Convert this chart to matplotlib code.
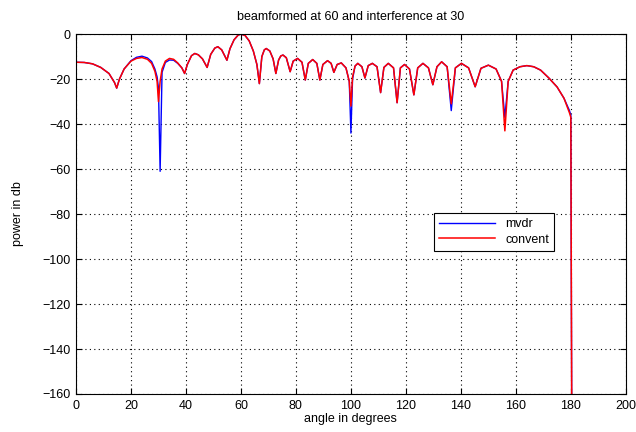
import matplotlib
matplotlib.use("Agg")
import matplotlib.pyplot as plt

plt.rcParams['font.family'] = ['Liberation Sans', 'DejaVu Sans']

title = "beamformed at 60 and interference at 30"
xlabel = "angle in degrees"
ylabel = "power in db"
series_names = ["mvdr", "convent"]

angle = [0, 3, 6, 9, 12, 14, 14.8, 15.8, 17.5, 20, 22, 24, 26, 27.5, 28.7, 29.5, 30, 30.6, 31.3,
         32.5, 34, 35.5, 37, 38.5, 39.5, 40.5, 42, 43.2, 44.5, 46, 47.7, 49, 50.5, 51.6, 53, 54.9,
         56, 57.5, 59, 60, 61.5, 63, 64.5, 65.8, 66.7, 67.6, 68.5, 69.2, 70.5, 71.7, 72.7, 73.7,
         74.5, 75.3, 76.5, 77.9, 79, 80.6, 82.2, 83.4, 84.5, 86.1, 87.6, 88.7, 89.8, 91.5, 92.8,
         93.8, 95, 96.5, 98.2, 99.4, 100, 100.6, 101.5, 102.5, 104, 105.1, 106.3, 107.8, 109.5,
         110.8, 112, 113.6, 115.5, 116.8, 118, 119.5, 121.3, 122.9, 124.3, 126.2, 128.2, 129.8,
         131.3, 133, 135, 136.5, 138, 140.2, 142.8, 145.2, 147.3, 150, 152.8, 154.8, 156, 157.2,
         159, 161.5, 164, 166.5, 169, 172, 175, 177.5, 179.5, 180, 180.3]

convent_db = [-12.5, -12.6, -13.2, -14.8, -17.5, -21.5, -24, -20, -15.5, -12, -10.8, -10.4, -11.2,
              -13, -16.5, -21, -30, -21, -15.5,
              -12, -10.8, -11.2, -12.8, -15, -17.5, -13.5, -9.6, -8.6, -9.2, -11, -14.8, -9, -6.2,
              -5.6, -7, -11.6,
              -6.5, -2.5, -0.4, 0, -0.6, -3, -7.5, -13.5, -22, -10, -7, -6.4, -7.5, -11, -17.5, -11.5,
              -9.7, -9.3, -10.5, -16.7, -12, -10.8, -12.5, -20.4, -13, -11.3, -13, -20.4, -13.5, -11.8,
              -13,
              -17, -13.5, -12.8, -15, -21, -32, -19, -14.2, -13, -14.5, -19.5, -14, -13, -14.5,
              -26, -14.8, -13, -15, -30.5, -15, -13.5, -15.5, -27, -15, -13, -15, -22.5,
              -14.5, -12.3, -14.5, -31, -15, -13, -15, -23.4, -15.2, -13.8, -15.5, -21, -43, -21,
              -16, -14.5, -14, -14.5, -16, -19.5, -23.5, -28.5, -35, -37, -160]

mvdr_db = [-12.5, -12.6, -13.2, -14.8, -17.5, -21.5, -24, -20, -15.5, -11.8, -10.3, -9.8, -10.6,
           -12.2, -15.5, -19, -24, -61, -17,
           -12.6, -11.5, -11.6, -13, -15, -17.5, -13.5, -9.6, -8.6, -9.2, -11, -14.8, -9, -6.2,
           -5.6, -7, -11.6,
           -6.5, -2.5, -0.4, 0, -0.6, -3, -7.5, -13.5, -22, -10, -7, -6.4, -7.5, -11, -17.5, -11.5,
           -9.7, -9.3, -10.5, -16.7, -12, -10.8, -12.5, -20.4, -13, -11.3, -13, -20.4, -13.5, -11.8,
           -13,
           -17, -13.5, -12.8, -15, -21, -44, -20, -14.2, -13, -14.5, -19.5, -14, -13, -14.5,
           -26, -14.8, -13, -15, -30.5, -15, -13.5, -15.5, -27, -15, -13, -15, -22.5,
           -14.5, -12.3, -14.5, -34, -15, -13, -15, -23.4, -15.2, -13.8, -15.5, -21, -37, -21,
           -16, -14.5, -14, -14.5, -16, -19.5, -23.5, -28.5, -34, -36, -160]

xticks = [0, 20, 40, 60, 80, 100, 120, 140, 160, 180, 200]
yticks = [0, -20, -40, -60, -80, -100, -120, -140, -160]

fig = plt.figure(figsize=(6.36, 4.32), dpi=100)
ax = fig.add_axes([0.1195, 0.088, 0.8645, 0.833])

ax.plot(angle, mvdr_db, color='#0000ff', lw=1.0, label=series_names[0])
ax.plot(angle, convent_db, color='#ff0000', lw=1.1, label=series_names[1])

ax.set_xlim(0, 200)
ax.set_ylim(-160, 0)
ax.set_xticks(xticks)
ax.set_yticks(yticks)
ax.tick_params(direction='in', top=True, right=True, labelsize=9, length=4, width=0.8, pad=4)
ax.grid(True, linestyle=(0, (1, 3)), color='black', linewidth=0.8)
for s in ax.spines.values():
    s.set_linewidth(0.8)

ax.set_title(title, fontsize=9, pad=10)
ax.set_xlabel(xlabel, fontsize=9, labelpad=1)
ax.set_ylabel(ylabel, fontsize=9, labelpad=13)

leg = ax.legend(loc='upper left', bbox_to_anchor=(0.64, 0.52), fontsize=9, fancybox=False,
                framealpha=1, edgecolor='black', handlelength=4.5, borderpad=0.4,
                labelspacing=0.3)
leg.get_frame().set_linewidth(0.8)

fig.savefig("out.png", dpi=100)
